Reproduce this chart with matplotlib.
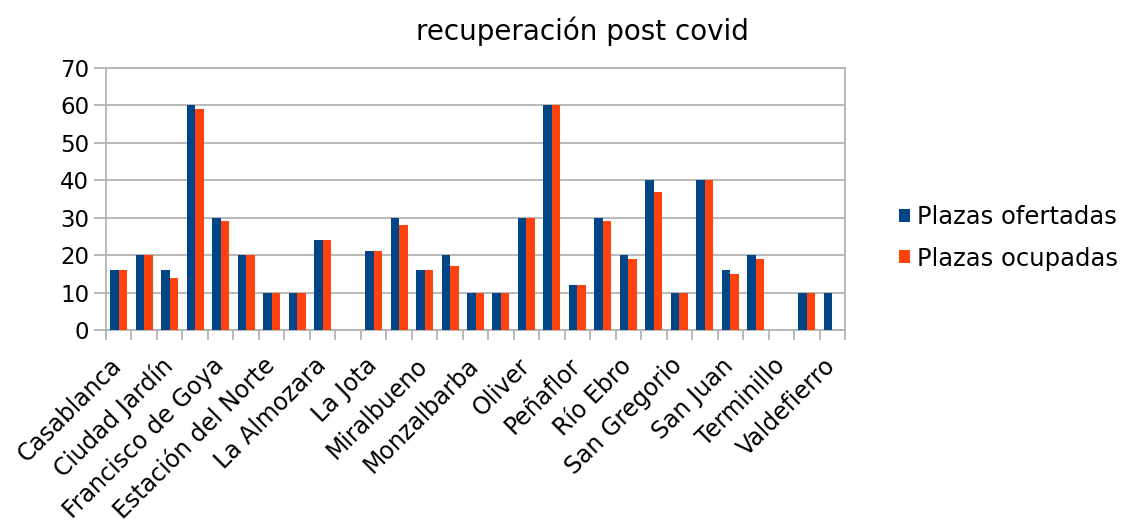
import numpy as np
import matplotlib
matplotlib.use("Agg")
import matplotlib.pyplot as plt
import matplotlib.transforms as mtransforms

# Barrios (only every other label is shown in the original chart)
barrios = ['Casablanca', '', 'Ciudad Jardín', '', 'Francisco de Goya', '',
           'Estación del Norte', '', 'La Almozara', '', 'La Jota', '',
           'Miralbueno', '', 'Monzalbarba', '', 'Oliver', '', 'Peñaflor', '',
           'Río Ebro', '', 'San Gregorio', '', 'San Juan', '', 'Terminillo', '',
           'Valdefierro']

ofertadas = [16, 20, 16, 60, 30, 20, 10, 10, 24, 0, 21, 30, 16, 20, 10,
             10, 30, 60, 12, 30, 20, 40, 10, 40, 16, 20, 0, 10, 10]
ocupadas = [16, 20, 14, 59, 29, 20, 10, 10, 24, 0, 21, 28, 16, 17, 10,
            10, 30, 60, 12, 29, 19, 37, 10, 40, 15, 19, 0, 10, 0]

azul = '#004586'
naranja = '#ff420e'
gris = '#b3b3b3'

plt.rcParams['font.family'] = 'DejaVu Sans'

fig = plt.figure(figsize=(11.28, 5.32), dpi=100)
ax = fig.add_axes([106 / 1128, 1 - 330 / 532, 739 / 1128, 262 / 532])

x = np.arange(len(barrios))
w = 1 / 3
ax.bar(x - w / 2, ofertadas, w, color=azul, label='Plazas ofertadas', zorder=3)
ax.bar(x + w / 2, ocupadas, w, color=naranja, label='Plazas ocupadas', zorder=3)

ax.set_xlim(-0.5, len(barrios) - 0.5)
ax.set_ylim(0, 70)
ax.set_yticks(range(0, 71, 10))
ax.yaxis.grid(True, color=gris, linewidth=1.3, zorder=0)
ax.tick_params(axis='y', length=9, width=1.3, color=gris, labelsize=16.5, pad=3)

ax.set_xticks(x)
ax.set_xticklabels(barrios, rotation=45, ha='right', va='top',
                   rotation_mode='anchor', fontsize=17)
ax.set_xticks(np.arange(-0.5, len(barrios), 1), minor=True)
ax.tick_params(axis='x', which='major', length=0, pad=17)
ax.tick_params(axis='x', which='minor', length=7, width=1.3, color=gris)

# shift the rotated labels a little to the left
shift = mtransforms.ScaledTranslation(-9 / 100, 0, fig.dpi_scale_trans)
for lab in ax.get_xticklabels():
    lab.set_transform(lab.get_transform() + shift)

for s in ax.spines.values():
    s.set_color(gris)
    s.set_linewidth(1.3)

fig.suptitle('recuperación post covid', x=582 / 1128, y=1 - 31 / 532,
             va='center', fontsize=20)

fig.legend(loc='center left', bbox_to_anchor=(877 / 1128, 1 - 238 / 532),
           frameon=False, fontsize=17.5, handlelength=0.45, handleheight=0.45,
           handletextpad=0.3, labelspacing=0.7)

fig.savefig('out.png', dpi=100)
